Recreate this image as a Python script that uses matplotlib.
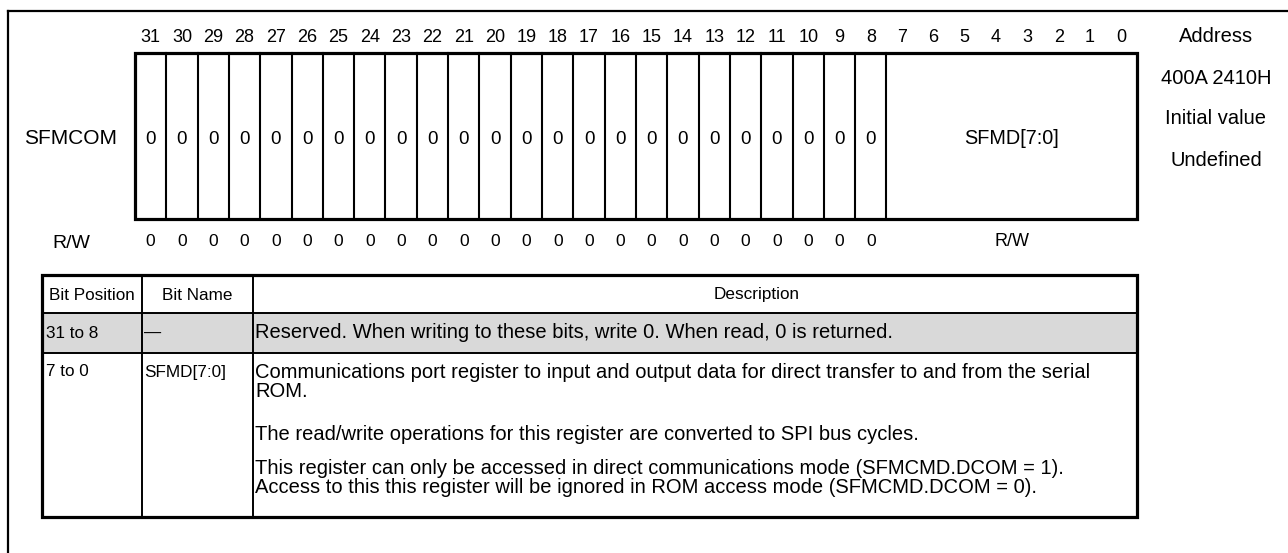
import matplotlib
matplotlib.use('Agg')
import matplotlib.pyplot as plt
from matplotlib.patches import Rectangle

plt.rcParams['font.family'] = ['Liberation Sans', 'DejaVu Sans']

# Register data
REG_NAME = 'SFMCOM'
BIT_NUMBERS = list(range(31, -1, -1))
# each field: high bit, low bit, text in the box, access / reset text below
FIELD_HI = list(range(31, 7, -1)) + [7]
FIELD_LO = list(range(31, 7, -1)) + [0]
FIELD_TEXT = ['0'] * 24 + ['SFMD[7:0]']
FIELD_ACCESS = ['0'] * 24 + ['R/W']
ACCESS_LABEL = 'R/W'
INFO_LINES = ['Address', '400A 2410H', 'Initial value', 'Undefined']

# Description table data
TABLE_HEADER = ['Bit Position', 'Bit Name', 'Description']
TABLE_POS = ['31 to 8', '7 to 0']
TABLE_NAME = ['\u2014', 'SFMD[7:0]']
TABLE_DESC = [
    [['Reserved. When writing to these bits, write 0. When read, 0 is returned.']],
    [['Communications port register to input and output data for direct transfer to and from the serial',
      'ROM.'],
     ['The read/write operations for this register are converted to SPI bus cycles.'],
     ['This register can only be accessed in direct communications mode (SFMCMD.DCOM = 1).',
      'Access to this this register will be ignored in ROM access mode (SFMCMD.DCOM = 0).']],
]
ROW_FILL = ['#d9d9d9', 'white']

# Layout (pixels, y downward)
W, H = 1288, 553
BOX_L, BOX_R, BOX_T, BOX_B = 135, 1137, 53, 219
CELL = (BOX_R - BOX_L) / 32.0
COLS = [42, 142, 253, 1137]
ROWS = [275, 313, 353, 517]
FIRST_LINE = [333, 372]     # centre of first text line in each body row
PARA_OFF = [0, 62, 96]      # paragraph offsets inside a row
LINE_H = 19.5


def bit_left(b):
    return BOX_L + (31 - b) * CELL


fig = plt.figure(figsize=(W / 100, H / 100), dpi=100)
ax = fig.add_axes([0, 0, 1, 1])
ax.set_xlim(0, W)
ax.set_ylim(H, 0)
ax.axis('off')

# outer frame (only top and left visible in the crop)
ax.plot([8, W + 5], [11, 11], color='black', lw=1.6, solid_capstyle='projecting')
ax.plot([8, 8], [11, H + 5], color='black', lw=1.6, solid_capstyle='projecting')

# bit numbers along the top
for b in BIT_NUMBERS:
    ax.text(bit_left(b) + CELL / 2, 38, str(b), ha='center', va='center', fontsize=13)

# register box and field dividers
ax.add_patch(Rectangle((BOX_L, BOX_T), BOX_R - BOX_L, BOX_B - BOX_T, fill=False,
                       lw=2.3, edgecolor='black', joinstyle='miter'))
for hi, lo, txt, acc in zip(FIELD_HI, FIELD_LO, FIELD_TEXT, FIELD_ACCESS):
    x0 = bit_left(hi)
    x1 = bit_left(lo) + CELL
    if hi != 31:
        ax.plot([x0, x0], [BOX_T, BOX_B], color='black', lw=1.5)
    xc = (x0 + x1) / 2
    fs = 14.3 if len(txt) > 1 else 13.5
    ax.text(xc, 139, txt, ha='center', va='center', fontsize=fs)
    ax.text(xc, 242, acc, ha='center', va='center', fontsize=12.5 if len(acc) == 1 else 13)

ax.text(71, 139, REG_NAME, ha='center', va='center', fontsize=15)
ax.text(71, 243, ACCESS_LABEL, ha='center', va='center', fontsize=14)

for i, line in enumerate(INFO_LINES):
    ax.text(1216, 37 + i * 41, line, ha='center', va='center', fontsize=14.5)

# description table
for r, fill in enumerate(ROW_FILL):
    ax.add_patch(Rectangle((COLS[0], ROWS[r + 1]), COLS[-1] - COLS[0], ROWS[r + 2] - ROWS[r + 1],
                           facecolor=fill, edgecolor='none'))
for y in ROWS[1:-1]:
    ax.plot([COLS[0], COLS[-1]], [y, y], color='black', lw=1.4)
for x in COLS[1:-1]:
    ax.plot([x, x], [ROWS[0], ROWS[-1]], color='black', lw=1.4)
ax.add_patch(Rectangle((COLS[0], ROWS[0]), COLS[-1] - COLS[0], ROWS[-1] - ROWS[0], fill=False,
                       lw=2.3, edgecolor='black', joinstyle='miter'))

hdr_x = [(COLS[0] + COLS[1]) / 2, (COLS[1] + COLS[2]) / 2, 757]
for x, txt in zip(hdr_x, TABLE_HEADER):
    ax.text(x, (ROWS[0] + ROWS[1]) / 2 + 1, txt, ha='center', va='center', fontsize=12.3)

for r in range(len(TABLE_POS)):
    y0 = FIRST_LINE[r]
    ax.text(COLS[0] + 4, y0, TABLE_POS[r], ha='left', va='center', fontsize=12.3)
    ax.text(COLS[1] + 2, y0, TABLE_NAME[r], ha='left', va='center', fontsize=12.3)
    for p, para in enumerate(TABLE_DESC[r]):
        for k, line in enumerate(para):
            ax.text(COLS[2] + 2, y0 + PARA_OFF[p] + k * LINE_H, line, ha='left', va='center',
                    fontsize=14.5)

fig.savefig('out.png', dpi=100)
